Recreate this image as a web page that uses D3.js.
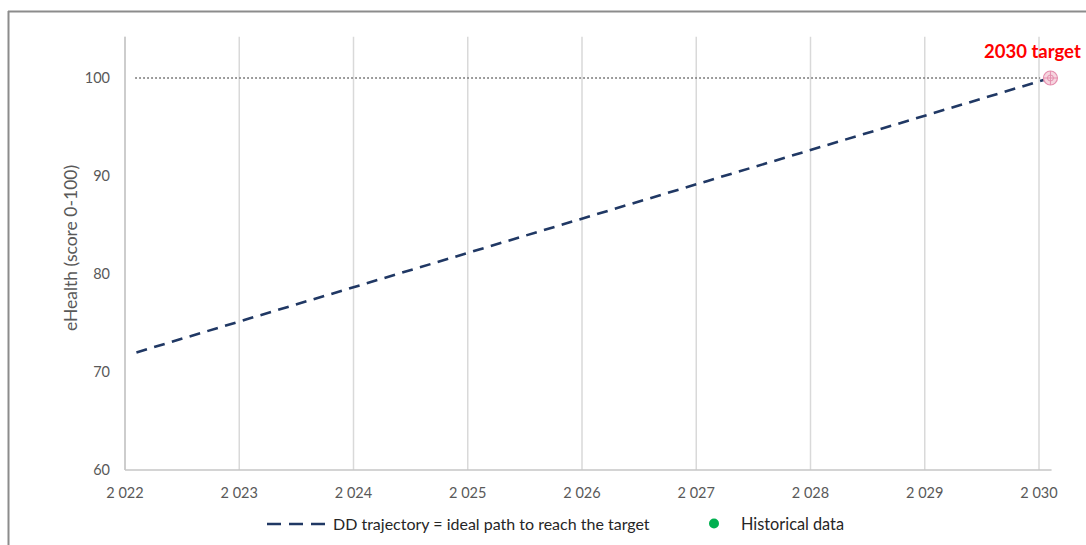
<!DOCTYPE html>
<html>
<head>
<meta charset="utf-8">
<script src="https://cdn.jsdelivr.net/npm/d3@7"></script>
<style>
  html, body { margin: 0; padding: 0; background: #fff; }
  svg { display: block; }
  text { font-family: Lato, "Open Sans", sans-serif; }
</style>
</head>
<body>
<svg id="chart" width="1086" height="545"></svg>
<script>
// Years shown on the x axis
const years = [2022, 2023, 2024, 2025, 2026, 2027, 2028, 2029, 2030];
// Y axis ticks
const yTicks = [60, 70, 80, 90, 100];
// Ideal DD trajectory towards the 2030 target
const trajYears = [2022.1, 2023.1, 2024.1, 2025.1, 2026.1, 2027.1, 2028.1, 2029.1, 2030.1];
const trajValues = [72, 75.5, 79, 82.5, 86, 89.5, 93, 96.5, 100];
// 2030 target point
const targetYear = [2030.1];
const targetValue = [100];
// Historical observations (none reported)
const historical = [];

const svg = d3.select("#chart");
const W = 1086, H = 545;

// Outer frame (top and left edges visible)
svg.append("line").attr("x1", 8).attr("x2", W).attr("y1", 11.5).attr("y2", 11.5)
  .attr("stroke", "#8c8c8c").attr("stroke-width", 2);
svg.append("line").attr("x1", 8.5).attr("x2", 8.5).attr("y1", 11).attr("y2", H)
  .attr("stroke", "#8c8c8c").attr("stroke-width", 2);

const x = d3.scaleLinear().domain([2022, 2030]).range([125, 1039]);
const y = d3.scaleLinear().domain([60, 100]).range([470, 78]);
const yTop = y(104.2);
const xEnd = x(2030.11);

// Vertical gridlines
svg.append("g").selectAll("line").data(years).join("line")
  .attr("x1", d => x(d)).attr("x2", d => x(d))
  .attr("y1", yTop).attr("y2", y(60))
  .attr("stroke", "#d9d9d9").attr("stroke-width", 1.5);

// Y axis line
svg.append("line").attr("x1", x(2022)).attr("x2", x(2022))
  .attr("y1", yTop).attr("y2", y(60))
  .attr("stroke", "#c6c6c6").attr("stroke-width", 1.5);

// X axis line
svg.append("line").attr("x1", x(2022)).attr("x2", xEnd)
  .attr("y1", y(60)).attr("y2", y(60))
  .attr("stroke", "#c6c6c6").attr("stroke-width", 1.5);

// Tick labels (space as thousands separator)
const fmtYear = d => { const s = String(d); return s.slice(0, 1) + "\u00a0" + s.slice(1); };
svg.append("g").selectAll("text").data(years).join("text")
  .attr("x", d => x(d)).attr("y", 498)
  .attr("text-anchor", "middle")
  .attr("fill", "#595959").attr("font-size", 14.5)
  .text(fmtYear);

svg.append("g").selectAll("text").data(yTicks).join("text")
  .attr("x", 110).attr("y", d => y(d) + 5)
  .attr("text-anchor", "end")
  .attr("fill", "#595959").attr("font-size", 14.5)
  .text(d => d);

// Y axis title
svg.append("text")
  .attr("transform", `translate(77, 248) rotate(-90)`)
  .attr("text-anchor", "middle")
  .attr("fill", "#595959").attr("font-size", 17.5)
  .text("eHealth (score 0-100)");

// Target reference line at 100
svg.append("line")
  .attr("x1", x(2022.09)).attr("x2", x(2030.01))
  .attr("y1", y(100)).attr("y2", y(100))
  .attr("stroke", "#7f7f7f").attr("stroke-width", 2)
  .attr("stroke-dasharray", "1.5 2.5");

// DD trajectory
const line = d3.line().x(d => x(d[0])).y(d => y(d[1]));
svg.append("path")
  .datum(trajYears.map((t, i) => [t, trajValues[i]]))
  .attr("d", line)
  .attr("fill", "none")
  .attr("stroke", "#203864").attr("stroke-width", 2.6)
  .attr("stroke-dasharray", "11 7.5");

// Historical points
svg.append("g").selectAll("circle").data(historical).join("circle")
  .attr("cx", d => x(d.year)).attr("cy", d => y(d.value))
  .attr("r", 5).attr("fill", "#00b050");

// 2030 target marker
const tg = svg.append("g")
  .attr("transform", `translate(${x(targetYear[0])}, ${y(targetValue[0])})`);
tg.append("circle").attr("r", 7).attr("fill", "#f6d5df").attr("stroke", "#e58fae").attr("stroke-width", 1.2);
tg.append("line").attr("x1", -7).attr("x2", 7).attr("stroke", "#e58fae").attr("stroke-width", 1);
tg.append("line").attr("y1", -7).attr("y2", 7).attr("stroke", "#e58fae").attr("stroke-width", 1);
tg.append("circle").attr("r", 3).attr("fill", "none").attr("stroke", "#e58fae").attr("stroke-width", 1);

svg.append("text")
  .attr("x", x(targetYear[0]) - 18).attr("y", 58)
  .attr("text-anchor", "middle")
  .attr("fill", "#ff0000").attr("font-size", 18.5).attr("font-weight", "bold")
  .text("2030 target");

// Legend
const lg = svg.append("g");
lg.append("line").attr("x1", 267).attr("x2", 325).attr("y1", 524).attr("y2", 524)
  .attr("stroke", "#203864").attr("stroke-width", 2.6).attr("stroke-dasharray", "14 8");
lg.append("text").attr("x", 333).attr("y", 529.5)
  .attr("fill", "#262626").attr("font-size", 16)
  .text("DD trajectory = ideal path to reach the target");
lg.append("circle").attr("cx", 714).attr("cy", 523.5).attr("r", 5).attr("fill", "#00b050");
lg.append("text").attr("x", 741).attr("y", 529.5)
  .attr("fill", "#262626").attr("font-size", 16.3)
  .text("Historical data");
</script>
</body>
</html>
